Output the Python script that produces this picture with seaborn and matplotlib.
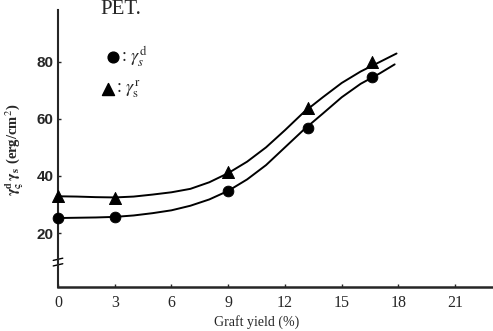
import numpy as np
import pandas as pd
import matplotlib
matplotlib.use("Agg")
import matplotlib.pyplot as plt
import seaborn as sns

sns.set_style("ticks")
plt.rcParams['font.family'] = ['Liberation Serif', 'DejaVu Serif']
plt.rcParams['mathtext.fontset'] = 'stix'

# measured points
graft_yield = [0, 3, 9, 13.2, 16.6]
gamma_d = [25.3, 25.7, 34.8, 56.8, 74.5]
gamma_s = [32.9, 32.3, 41.4, 63.8, 80.0]

# curves as drawn in the figure
curve_x_s = [0, 1, 2, 3, 4, 5, 6, 7, 8, 9, 10, 11, 12, 13, 14, 15, 16, 17, 17.9]
curve_s = [32.9, 32.8, 32.6, 32.5, 32.8, 33.5, 34.3, 35.5, 37.8, 41.0, 45.0, 50.0, 56.0,
           62.3, 67.5, 72.5, 76.5, 79.8, 82.8]
curve_x_d = [0, 1, 2, 3, 4, 5, 6, 7, 8, 9, 10, 11, 12, 13, 14, 15, 16, 17, 17.8]
curve_d = [25.3, 25.4, 25.5, 25.7, 26.2, 27.0, 28.0, 29.6, 31.8, 34.8, 38.8, 43.8, 50.0,
           56.2, 61.8, 67.5, 72.2, 75.8, 79.0]

x_ticks = [0, 3, 6, 9, 12, 15, 18, 21]
y_ticks = [20, 40, 60, 80]

fig = plt.figure(figsize=(4.93, 3.31), dpi=100)
ax = fig.add_axes([58 / 493, 44 / 331, 1 - 58 / 493, 277 / 331])

sns.lineplot(x=curve_x_s, y=curve_s, ax=ax, color='black', lw=1.4, sort=False)
sns.lineplot(x=curve_x_d, y=curve_d, ax=ax, color='black', lw=1.4, sort=False)
sns.scatterplot(x=graft_yield, y=gamma_d, ax=ax, marker='o', s=60, color='black',
                edgecolor='black', zorder=5, clip_on=False)
sns.scatterplot(x=graft_yield, y=gamma_s, ax=ax, marker='^', s=75, color='black',
                edgecolor='black', zorder=5, clip_on=False)

ax.set_xlim(0, 23.0)
ax.set_ylim(1.2, 98)
ax.set_xticks(x_ticks)
ax.set_yticks(y_ticks)
ax.set_xticklabels([str(t) for t in x_ticks], fontsize=11.5)
ax.set_yticklabels([str(t) for t in y_ticks], fontsize=11, family='Liberation Sans',
                   fontweight='bold')
ax.tick_params(direction='in', length=2, width=1, pad=6)
ax.tick_params(axis='y', pad=3)
for side in ['top', 'right']:
    ax.spines[side].set_visible(False)
ax.spines['left'].set_linewidth(1.5)
ax.spines['bottom'].set_linewidth(1.8)

# axis break marks
ax.plot([-0.003, 0.003], [0.078, 0.102], transform=ax.transAxes, color='white', lw=2.5,
        clip_on=False)
for dy in (-0.01, 0.01):
    ax.plot([-0.011, 0.011], [0.09 + dy - 0.004, 0.09 + dy + 0.004], transform=ax.transAxes,
            color='black', lw=1, clip_on=False)

ax.set_xlabel('')
ax.set_ylabel('')

# legend drawn as in the original
ax.scatter([0.127], [0.83], transform=ax.transAxes, marker='o', s=60, color='black',
           clip_on=False)
ax.scatter([0.115], [0.715], transform=ax.transAxes, marker='^', s=75, color='black',
           clip_on=False)
ax.text(0.145, 0.83, r': $\gamma^{\rm d}_{s}$', transform=ax.transAxes, fontsize=13,
        va='center')
ax.text(0.133, 0.715, r': $\gamma^{\rm r}_{\rm s}$', transform=ax.transAxes, fontsize=13,
        va='center')

fig.text(121 / 493, 1 - 10 / 331, 'PET.', fontsize=15, ha='center', va='center')
fig.text(257 / 493, 1 - 322 / 331, 'Graft yield (%)', fontsize=10, ha='center',
         va='center')
fig.text(15 / 493, 1 - 150 / 331, r'$\mathbf{\gamma^d_\varsigma\,\gamma_s}$ (erg/cm$^2$)',
         fontsize=10.5, rotation=90, ha='center', va='center', fontweight='bold')

fig.savefig('out.png', dpi=100)
